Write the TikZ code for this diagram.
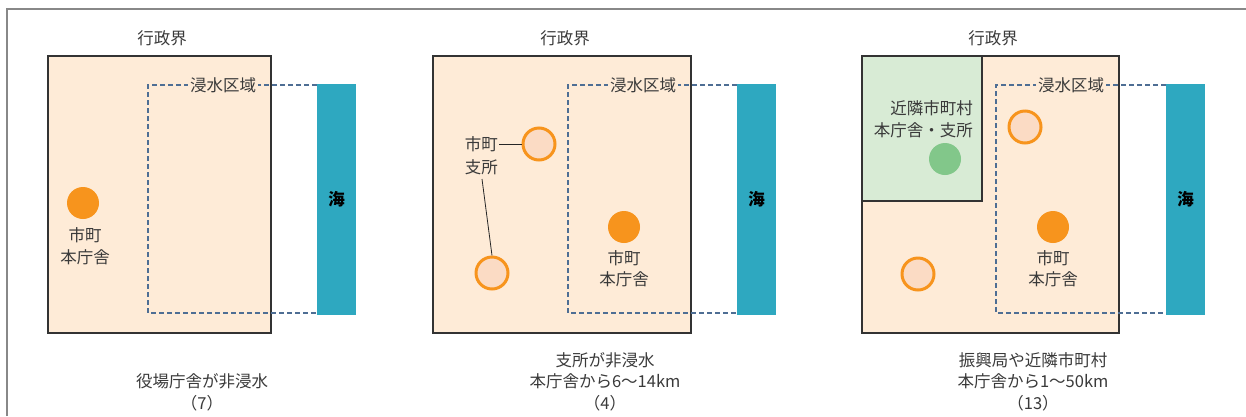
\documentclass[tikz,border=0pt]{standalone}
\usepackage{fontspec}
\setmainfont{Noto Sans CJK JP}
\usetikzlibrary{calc}
\begin{document}
\definecolor{beige}{HTML}{FEEBD7}
\definecolor{sea}{HTML}{2EA8C0}
\definecolor{dashc}{HTML}{4E6E94}
\definecolor{orng}{HTML}{F7941D}
\definecolor{hollowfill}{HTML}{FBDBC4}
\definecolor{greenfill}{HTML}{D8EBD5}
\definecolor{greendot}{HTML}{82C78A}
\definecolor{txt}{HTML}{3A3A3A}
\definecolor{framec}{HTML}{888888}
\begin{tikzpicture}[x=1pt,y=-1pt,
  every node/.style={font=\fontsize{16.5}{21.5}\selectfont, text=txt, inner sep=0pt},
  boundary/.style={draw=black!80, line width=1.3pt, fill=beige},
  greenarea/.style={draw=black!80, line width=1.3pt, fill=greenfill},
  flood/.style={draw=dashc, line width=1.5pt, dash pattern=on 5pt off 3pt},
  floodlbl/.style={fill=beige, inner xsep=2pt, inner ysep=1pt},
  seabox/.style={fill=sea, draw=none},
  sealbl/.style={font=\fontsize{16.5}{21.5}\selectfont\bfseries, text=black},
  mainoffice/.style={circle, fill=orng, minimum size=32pt, draw=none},
  branch/.style={circle, fill=hollowfill, draw=orng, line width=3pt, minimum size=32pt},
  neighbor/.style={circle, fill=greendot, minimum size=32pt, draw=none},
  leader/.style={draw=black!85, line width=0.8pt},
  lbl/.style={align=center},
]
\useasboundingbox (0,0) rectangle (1246,416);
% partial frame
\coordinate (fa) at (7,416);
\coordinate (fb) at (7,9);
\coordinate (fc) at (1246,9);
\draw[framec, line width=1.5pt] (fa) -- (fb) -- (fc);

% ================= Panel 1 =================
\node (t1) at (162,38) {行政界};
\draw[boundary] (48,56) rectangle (271,333);
\node[seabox, minimum width=39pt, minimum height=231pt, anchor=north west] (sea1) at (317,84) {};
\coordinate (f1a) at (317,85);
\coordinate (f1b) at (148,85);
\coordinate (f1c) at (148,313);
\coordinate (f1d) at (317,313);
\draw[flood] (f1a) -- (f1b) -- (f1c) -- (f1d);
\node[floodlbl] (fl1) at (223,85) {浸水区域};
\node[sealbl] (s1) at (sea1.center) {海};
\node[mainoffice] (m1) at (83,203) {};
\node[lbl] (m1l) at (85,246) {市町\\本庁舎};
\node[lbl] (c1) at (202,392.5) {役場庁舎が非浸水\\（7）};

% ================= Panel 2 =================
\node (t2) at (565,38) {行政界};
\draw[boundary] (433,56) rectangle (691,333);
\node[seabox, minimum width=39pt, minimum height=231pt, anchor=north west] (sea2) at (737,84) {};
\coordinate (f2a) at (737,85);
\coordinate (f2b) at (568,85);
\coordinate (f2c) at (568,313);
\coordinate (f2d) at (737,313);
\draw[flood] (f2a) -- (f2b) -- (f2c) -- (f2d);
\node[floodlbl] (fl2) at (643,85) {浸水区域};
\node[sealbl] (s2) at (sea2.center) {海};
\node[branch] (b2a) at (539,144) {};
\node[branch] (b2b) at (492,273) {};
\node[anchor=east] (b2l1) at (498,144) {市町};
\node[anchor=east] (b2l2) at (498,167) {支所};
\coordinate (b2lt) at (499,144);
\draw[leader] (b2lt) -- (b2a.west);
\coordinate (b2lp) at (482,179);
\draw[leader] (b2lp) -- (b2b.north);
\node[mainoffice] (m2) at (624,227) {};
\node[lbl] (m2l) at (624,268.5) {市町\\本庁舎};
\node[lbl] (c2) at (605,381.5) {支所が非浸水\\本庁舎から6〜14km\\（4）};

% ================= Panel 3 =================
\node (t3) at (993,38) {行政界};
\draw[boundary] (862,56) rectangle (1119,333);
\draw[greenarea] (862,56) rectangle (982,201);
\node[seabox, minimum width=39pt, minimum height=231pt, anchor=north west] (sea3) at (1166,84) {};
\coordinate (f3a) at (1166,85);
\coordinate (f3b) at (996,85);
\coordinate (f3c) at (996,313);
\coordinate (f3d) at (1166,313);
\draw[flood] (f3a) -- (f3b) -- (f3c) -- (f3d);
\node[floodlbl] (fl3) at (1071,85) {浸水区域};
\node[sealbl] (s3) at (sea3.center) {海};
\node[align=right, anchor=east] (g3l) at (973,119) {近隣市町村\\本庁舎・支所};
\node[neighbor] (g3) at (945,159) {};
\node[branch] (b3a) at (1025,127) {};
\node[branch] (b3b) at (918,274) {};
\node[mainoffice] (m3) at (1053,227) {};
\node[lbl] (m3l) at (1053,268.5) {市町\\本庁舎};
\node[lbl] (c3) at (1033,381.5) {振興局や近隣市町村\\本庁舎から1〜50km\\（13）};
\end{tikzpicture}
\end{document}
